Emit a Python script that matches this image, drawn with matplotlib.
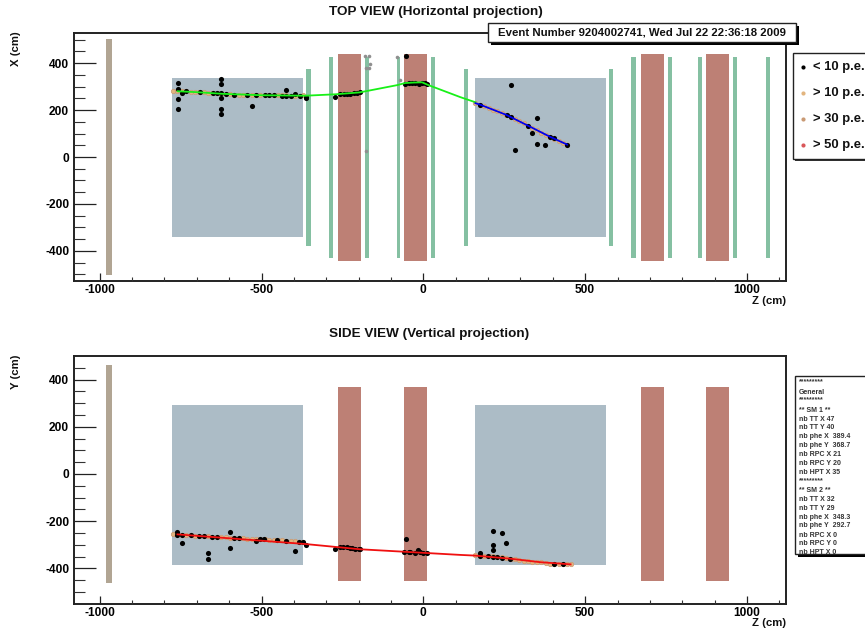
import matplotlib
matplotlib.use("Agg")
import matplotlib.pyplot as plt
from matplotlib.patches import Rectangle

plt.rcParams['font.family'] = ['Liberation Sans', 'DejaVu Sans']
plt.rcParams['font.weight'] = 'bold'
plt.rcParams['axes.unicode_minus'] = False

# ---- detector geometry (cm)
tan_z = (-980, -961)
box_z = [(-776, -371), (159, 564)]
red_z = [(-263, -192), (-59, 12), (672, 743), (873, 944)]
green_short_z = [(-362, -346), (127, 139), (574, 586)]
green_tall_z = [(-291, -278), (-179, -167), (-83, -71), (25, 37), (642, 657),
                (756, 769), (849, 861), (957, 970), (1059, 1072)]
top_tan_y = (-502, 502)
top_box_y = (-340, 336)
top_red_y = (-442, 438)
top_gs_y = (-379, 374)
top_gt_y = (-430, 425)
side_tan_y = (-462, 462)
side_box_y = (-386, 292)
side_red_y = (-453, 369)

# ---- top view hits
top_black_z = [-759, -759, -759, -759, -746, -732, -691, -651, -638, -624, -624, -624, -624, -624, -624,
               -611, -584, -544, -530, -517, -490, -477, -462, -436, -423, -423, -409, -396, -382, -364, -364,
               -272, -257, -246, -236, -226, -215, -205, -197, -53,
               -56, -45, -35, -25, -14, -4, 6, 11,
               175, 257, 270, 270, 283, 324, 337, 350, 350, 376, 390, 403, 444]
top_black_x = [313, 289, 247, 204, 271, 281, 277, 274, 271, 333, 309, 252, 204, 184, 271,
               267, 264, 264, 217, 262, 264, 264, 264, 261, 261, 287, 261, 270, 261, 252, 254,
               256, 267, 267, 267, 268, 271, 274, 275, 431,
               311, 315, 316, 316, 311, 315, 314, 309,
               223, 179, 172, 305, 30, 133, 101, 165, 54, 51, 87, 82, 53]
top_gray_z = [-179, -169, -166, -176, -167, -178, -81, -73]
top_gray_x = [429, 429, 398, 380, 381, 25, 427, 326]

tan1_z = [-774, -760, -746, -732, -719, -706, -692, -679, -665, -652, -638, -625, -611, -598, -584, -571,
          -557, -544, -531, -517, -504, -490, -477, -463, -450, -436, -423, -409, -396, -382, -371]
top_tan1_x = [282, 281, 279, 279, 278, 277, 276, 275, 273, 274, 272, 270, 269, 267, 266, 265,
              265, 264, 263, 262, 263, 263, 263, 263, 262, 262, 262, 261, 261, 261, 262]
top_tan2_z = [161, 175, 188, 202, 215, 229, 243, 256, 270, 283, 297, 310, 324, 337, 351, 364, 378, 391, 405, 418, 432, 444]
top_tan2_x = [229, 222, 216, 209, 201, 194, 186, 179, 171, 162, 152, 143, 133, 124, 113, 104, 95, 86, 77, 69, 60, 53]

green_z = [-759, -700, -620, -500, -364, -272, -197, -81, -56, -30, -4, 16, 114, 161]
green_x = [280, 276, 269, 263, 261, 267, 275, 306, 315, 317, 318, 306, 255, 233]
blue_z = [161, 175, 257, 324, 390, 444]
blue_x = [229, 223, 179, 133, 87, 53]

# ---- side view hits
side_black_z = [-760, -760, -746, -746, -719, -692, -679, -665, -665, -652, -638, -598, -597, -585, -571,
                -518, -505, -491, -451, -424, -398, -384, -371, -364, -272,
                -257, -247, -236, -228, -219, -210, -200, -197, -53,
                -59, -45, -40, -25, -17, -10, 0, 11,
                175, 175, 201, 214, 214, 214, 214, 228, 242, 242, 256, 268, 403, 430]
side_black_y = [-244, -257, -257, -294, -260, -264, -263, -335, -359, -266, -267, -244, -312, -271, -271,
                -285, -275, -276, -279, -285, -328, -289, -290, -301, -316,
                -311, -311, -311, -315, -315, -316, -319, -319, -274,
                -329, -329, -331, -333, -324, -332, -333, -333,
                -335, -348, -348, -242, -303, -322, -350, -353, -250, -355, -294, -360, -383, -383]
side_tan1_y = [-254, -256, -258, -259, -260, -261, -263, -264, -265, -266, -267, -268, -269, -270, -271, -272,
               -273, -274, -275, -275, -276, -277, -278, -279, -280, -281, -283, -285, -286, -288, -290]
side_tan2_z = [161, 175, 188, 202, 215, 229, 243, 256, 270, 283, 297, 310, 324, 337, 351, 364, 378, 391, 405, 418, 432, 445, 455]
side_tan2_y = [-345, -346, -347, -348, -349, -351, -353, -356, -359, -362, -365, -368, -370, -372, -373, -375, -377,
               -380, -381, -382, -383, -383, -383]
red_line_z = [-760, -364, -197, 114, 161, 268, 362, 455]
red_line_y = [-256, -297, -319, -343, -346, -359, -374, -383]

# ---- text
top_title = "TOP VIEW (Horizontal projection)"
side_title = "SIDE VIEW (Vertical projection)"
event_text = "Event Number 9204002741, Wed Jul 22 22:36:18 2009"
legend_labels = ["< 10 p.e.", "> 10 p.e.", "> 30 p.e.", "> 50 p.e."]
legend_colors = ["black", "#e2b57f", "#c99a74", "#d9575a"]
info_lines = ["*********", "General", "*********", "** SM 1 **", "nb TT X 47", "nb TT Y 40",
              "nb phe X  389.4", "nb phe Y  368.7", "nb RPC X 21", "nb RPC Y 20", "nb HPT X 35", "*********",
              "** SM 2 **", "nb TT X 32", "nb TT Y 29", "nb phe X  348.3", "nb phe Y  292.7", "nb RPC X 0",
              "nb RPC Y 0", "nb HPT X 0"]
info_rows = [62, 72.5, 80, 90.5, 99.5, 107.5, 116.5, 125.5, 134.5, 143.5, 152.5, 160.5, 170, 179.5, 188.5,
             197.5, 205.5, 215.5, 223.5, 232.5]

C_BLUE, C_RED, C_GREEN, C_TAN = "#acbcc6", "#bd8075", "#85c0a2", "#b1a593"
W, H = 865, 633
fig = plt.figure(figsize=(W / 100, H / 100), dpi=100, facecolor="white")


def make_axes(l, t, r, b, ylim, majors, minors):
    ax = fig.add_axes([l / W, 1 - b / H, (r - l) / W, (b - t) / H])
    ax.set_xlim(-1079.5, 1120.5)
    ax.set_ylim(*ylim)
    ax.set_xticks([-1000, -500, 0, 500, 1000])
    ax.set_xticks(list(range(-1000, 1101, 100)), minor=True)
    ax.set_yticks(majors)
    ax.set_yticks(minors, minor=True)
    ax.tick_params(axis='x', which='major', direction='in', length=5.8, width=0.9, labelsize=8.6, pad=2, color='#222222')
    ax.tick_params(axis='x', which='minor', direction='in', length=2.9, width=0.8, color='#333333')
    ax.tick_params(axis='y', which='major', direction='in', length=15.8, width=0.9, labelsize=8.6, pad=3.5, color='#222222')
    ax.tick_params(axis='y', which='minor', direction='in', length=8, width=0.8, color='#333333')
    for s in ax.spines.values():
        s.set_linewidth(1.4)
        s.set_color('#222222')
    ax.set_axisbelow(False)
    return ax


def rect(ax, xr, yr, c):
    ax.add_patch(Rectangle((xr[0], yr[0]), xr[1] - xr[0], yr[1] - yr[0], fc=c, ec='none', zorder=1))


top = make_axes(74, 33, 786, 281, (-528, 528), [-400, -200, 0, 200, 400],
                list(range(-500, 501, 50)))
side = make_axes(74, 355.7, 786, 604, (-551, 501), [-400, -200, 0, 200, 400],
                 list(range(-500, 451, 50)))

# top view
rect(top, tan_z, top_tan_y, C_TAN)
for b in box_z:
    rect(top, b, top_box_y, C_BLUE)
for g in green_short_z:
    rect(top, g, top_gs_y, C_GREEN)
for g in green_tall_z:
    rect(top, g, top_gt_y, C_GREEN)
for r in red_z:
    rect(top, r, top_red_y, C_RED)
top.plot(tan1_z, top_tan1_x, ls='none', marker='o', ms=3.2, mfc="#e2b57f", mec="#c99a74", mew=0.5, zorder=3)
top.plot(top_tan2_z, top_tan2_x, ls='none', marker='o', ms=3.2, mfc="#e2b57f", mec="#c99a74", mew=0.5, zorder=3)
top.plot(top_gray_z, top_gray_x, ls='none', marker='o', ms=2.6, color="#8f8f8f", mew=0, zorder=3)
top.plot(top_black_z, top_black_x, ls='none', marker='o', ms=3.7, color="black", mew=0, zorder=4)
top.plot(green_z, green_x, color="#18f018", lw=1.3, zorder=5)
top.plot(blue_z, blue_x, color="#0000ee", lw=1.3, zorder=5)

# side view
rect(side, tan_z, side_tan_y, C_TAN)
for b in box_z:
    rect(side, b, side_box_y, C_BLUE)
for r in red_z:
    rect(side, r, side_red_y, C_RED)
side.plot(tan1_z, side_tan1_y, ls='none', marker='o', ms=3.2, mfc="#e2b57f", mec="#c99a74", mew=0.5, zorder=3)
side.plot(side_tan2_z, side_tan2_y, ls='none', marker='o', ms=3.2, mfc="#e2b57f", mec="#c99a74", mew=0.5, zorder=3)
side.plot(side_black_z, side_black_y, ls='none', marker='o', ms=3.7, color="black", mew=0, zorder=4)
side.plot(red_line_z, red_line_y, color="#f01010", lw=1.3, zorder=5)

# overlay in pixel coordinates
ov = fig.add_axes([0, 0, 1, 1], zorder=10)
ov.set_xlim(0, W)
ov.set_ylim(H, 0)
ov.axis('off')
ov.patch.set_alpha(0)

ov.text(436, 12, top_title, ha='center', va='center', fontsize=9.7, color='#111111')
ov.text(429.5, 334.5, side_title, ha='center', va='center', fontsize=9.7, color='#111111')
ov.text(786, 300.5, "Z (cm)", ha='right', va='center', fontsize=8.2, color='#111111')
ov.text(786, 623, "Z (cm)", ha='right', va='center', fontsize=8.2, color='#111111')
ov.text(16, 49, "X (cm)", rotation=90, ha='center', va='center', fontsize=8.2, color='#111111')
ov.text(16, 372, "Y (cm)", rotation=90, ha='center', va='center', fontsize=8.2, color='#111111')

# event box
ov.add_patch(Rectangle((491, 26), 308, 19, fc='black', ec='none', zorder=1))
ov.add_patch(Rectangle((488, 23), 308, 19, fc='white', ec='#222222', lw=1, zorder=2))
ov.text(642, 32.5, event_text, ha='center', va='center', fontsize=8.2, color='#111111', zorder=3)

# legend box
ov.add_patch(Rectangle((795, 55), 80, 105.5, fc='#333333', ec='none', zorder=1))
ov.add_patch(Rectangle((793, 53), 80, 105.5, fc='white', ec='#222222', lw=1, zorder=2))
for row, lab, col in zip([67, 93, 119, 145], legend_labels, legend_colors):
    ov.plot([803], [row], ls='none', marker='o', ms=3, color=col, mew=0, zorder=3)
    ov.text(813, row, lab, ha='left', va='center', fontsize=9.4, color='#111111', zorder=3)

# info box
ov.add_patch(Rectangle((798, 379), 80, 178, fc='black', ec='none', zorder=1))
info_bg = Rectangle((795, 376), 80, 178, fc='white', ec='#222222', lw=1, zorder=2)
ov.add_patch(info_bg)
for line, row in zip(info_lines, info_rows):
    t = ov.text(799, 320 + row, line, ha='left', va='center', fontsize=5, color='#333333', zorder=3)
    t.set_clip_path(info_bg)

fig.savefig("out.png", dpi=100)
